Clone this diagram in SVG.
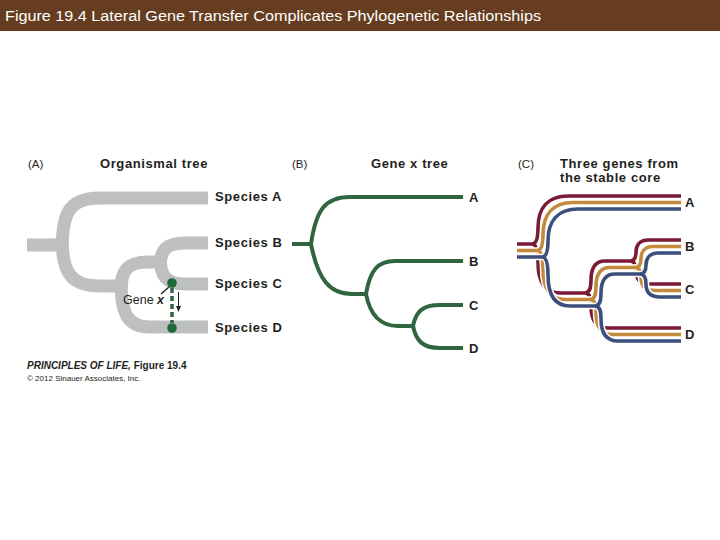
<svg xmlns="http://www.w3.org/2000/svg" width="720" height="540" viewBox="0 0 720 540">
<style>
.lbl{font-family:"Liberation Sans",Arial,sans-serif;font-weight:bold;font-size:13px;fill:#231f20;letter-spacing:0.6px}
.ttl{font-family:"Liberation Sans",Arial,sans-serif;font-weight:bold;font-size:13px;fill:#231f20;letter-spacing:0.6px}
.pan{font-family:"Liberation Sans",Arial,sans-serif;font-size:11.5px;fill:#231f20}
.gray{fill:none;stroke:#bebfc1;stroke-width:13}
.grn{fill:none;stroke:#2f6640;stroke-width:4}
.case{fill:none;stroke:#ffffff;stroke-width:6.5}
.mar{fill:none;stroke:#7a1b35;stroke-width:3.6}
.org{fill:none;stroke:#c48a3c;stroke-width:3.6}
.blu{fill:none;stroke:#3b4f7c;stroke-width:3.6}
</style>
<defs>
<path id="tm" d="M517,244 H532 C537,244 538,236 538,228 C538,208 548,196 568,196 H681 M532,244 C537,244 538,252 538,262 C538,282 545,293 560,293 H585 M585,293 C591,293 591,285 591,280 C591,268 595,261 605,261 H630 M585,293 C591,293 591,301 591,306 C591,320 596,328 608,328 H681 M630,261 C635,261 636,256 636,252 C636,245 640,240 648,240 H681 M630,261 C635,261 636,266 636,271 C636,279 640,284 650,284 H681"/>
<path id="to" d="M517,250.5 H537 C542,250.5 543,242.5 543,234.5 C543,214.5 553,202.5 573,202.5 H681 M537,250.5 C542,250.5 543,258.5 543,268.5 C543,288.5 550,299.5 565,299.5 H590 M590,299.5 C596,299.5 596,291.5 596,286.5 C596,274.5 600,267.5 610,267.5 H635 M590,299.5 C596,299.5 596,307.5 596,312.5 C596,326.5 601,334.5 613,334.5 H681 M635,267.5 C640,267.5 641,262.5 641,258.5 C641,251.5 645,246.5 653,246.5 H681 M635,267.5 C640,267.5 641,272.5 641,277.5 C641,285.5 645,290.5 655,290.5 H681"/>
<path id="tb" d="M517,257 H542 C547,257 548,249 548,241 C548,221 558,209 578,209 H681 M542,257 C547,257 548,265 548,275 C548,295 555,306 570,306 H595 M595,306 C601,306 601,298 601,293 C601,281 605,274 615,274 H640 M595,306 C601,306 601,314 601,319 C601,333 606,341 618,341 H681 M640,274 C645,274 646,269 646,265 C646,258 650,253 658,253 H681 M640,274 C645,274 646,279 646,284 C646,292 650,297 660,297 H681"/>
</defs>
<rect width="720" height="540" fill="#ffffff"/>
<g id="header">
<rect x="0" y="0" width="720" height="31" fill="#663d20"/>
<text x="5" y="21" font-family="Liberation Sans,Arial,sans-serif" font-size="15.5" fill="#ffffff" textLength="536" lengthAdjust="spacingAndGlyphs">Figure 19.4  Lateral Gene Transfer Complicates Phylogenetic Relationships</text>
</g>
<g id="panelA">
<text class="pan" x="28" y="168">(A)</text>
<text class="ttl" x="100" y="168">Organismal tree</text>
<g id="treeA">
<path class="gray" d="M27,245 H64"/>
<path class="gray" d="M62,252 C62,214 68,198 100,198 H208"/>
<path class="gray" d="M62,238 C62,274 72,286 100,286 H122"/>
<path class="gray" d="M121,290 C121,270 128,262 148,262 H162"/>
<path class="gray" d="M121,282 C121,314 128,327 150,327 H208"/>
<path class="gray" d="M160,268 C160,250 166,243 185,243 H208"/>
<path class="gray" d="M160,256 C160,276 166,284 185,284 H208"/>
</g>
<g id="geneTransfer">
<line x1="172" y1="288" x2="172" y2="323" stroke="#2f6640" stroke-width="3.5" stroke-dasharray="5,3"/>
<circle cx="172" cy="283" r="4.8" fill="#1f6a39"/>
<circle cx="172" cy="328" r="4.8" fill="#1f6a39"/>
<line x1="178.5" y1="292" x2="178.5" y2="307" stroke="#231f20" stroke-width="1"/>
<path d="M176,306 L181,306 L178.5,312 Z" fill="#231f20"/>
<line x1="161" y1="294" x2="169" y2="287" stroke="#231f20" stroke-width="1.4"/>
<text x="123" y="304" font-family="Liberation Sans,Arial,sans-serif" font-size="12.5" fill="#231f20">Gene <tspan font-style="italic" font-weight="bold">x</tspan></text>
</g>
<g id="speciesA"><text class="lbl" x="215" y="201">Species A</text></g>
<g id="speciesB"><text class="lbl" x="215" y="247">Species B</text></g>
<g id="speciesC"><text class="lbl" x="215" y="288">Species C</text></g>
<g id="speciesD"><text class="lbl" x="215" y="332">Species D</text></g>
</g>
<g id="panelB">
<text class="pan" x="292" y="168">(B)</text>
<text class="ttl" x="371" y="168">Gene x tree</text>
<g id="treeB">
<path class="grn" d="M292,244 H311"/>
<path class="grn" d="M311,244 C316,210 325,197 350,197 H463"/>
<path class="grn" d="M311,244 C318,280 330,294 352,294 H366"/>
<path class="grn" d="M366,294 C370,270 378,261 395,261 H463"/>
<path class="grn" d="M366,294 C370,315 380,326 398,326 H413"/>
<path class="grn" d="M413,326 C416,311 423,305 440,305 H463"/>
<path class="grn" d="M413,326 C416,341 423,348 440,348 H463"/>
</g>
<g id="bA"><text class="lbl" x="469" y="202">A</text></g>
<g id="bB"><text class="lbl" x="469" y="266">B</text></g>
<g id="bC"><text class="lbl" x="469" y="310">C</text></g>
<g id="bD"><text class="lbl" x="469" y="353">D</text></g>
</g>
<g id="panelC">
<text class="pan" x="518" y="168">(C)</text>
<text class="ttl" x="560" y="168">Three genes from</text>
<text class="ttl" x="560" y="182">the stable core</text>
<g id="treesC">
<use href="#tm" class="case"/>
<use href="#tm" class="mar"/>
<use href="#to" class="case"/>
<use href="#to" class="org"/>
<use href="#tb" class="case"/>
<use href="#tb" class="blu"/>
</g>
<g id="cA"><text class="lbl" x="685" y="207">A</text></g>
<g id="cB"><text class="lbl" x="685" y="251">B</text></g>
<g id="cC"><text class="lbl" x="685" y="294">C</text></g>
<g id="cD"><text class="lbl" x="685" y="339">D</text></g>
</g>
<g id="credit">
<text x="27" y="369" font-family="Liberation Sans,Arial,sans-serif" font-size="10" font-weight="bold" fill="#231f20"><tspan font-style="italic">PRINCIPLES OF LIFE,</tspan> Figure 19.4</text>
<text x="27" y="381" font-family="Liberation Sans,Arial,sans-serif" font-size="8" fill="#231f20">© 2012 Sinauer Associates, Inc.</text>
</g>
</svg>
